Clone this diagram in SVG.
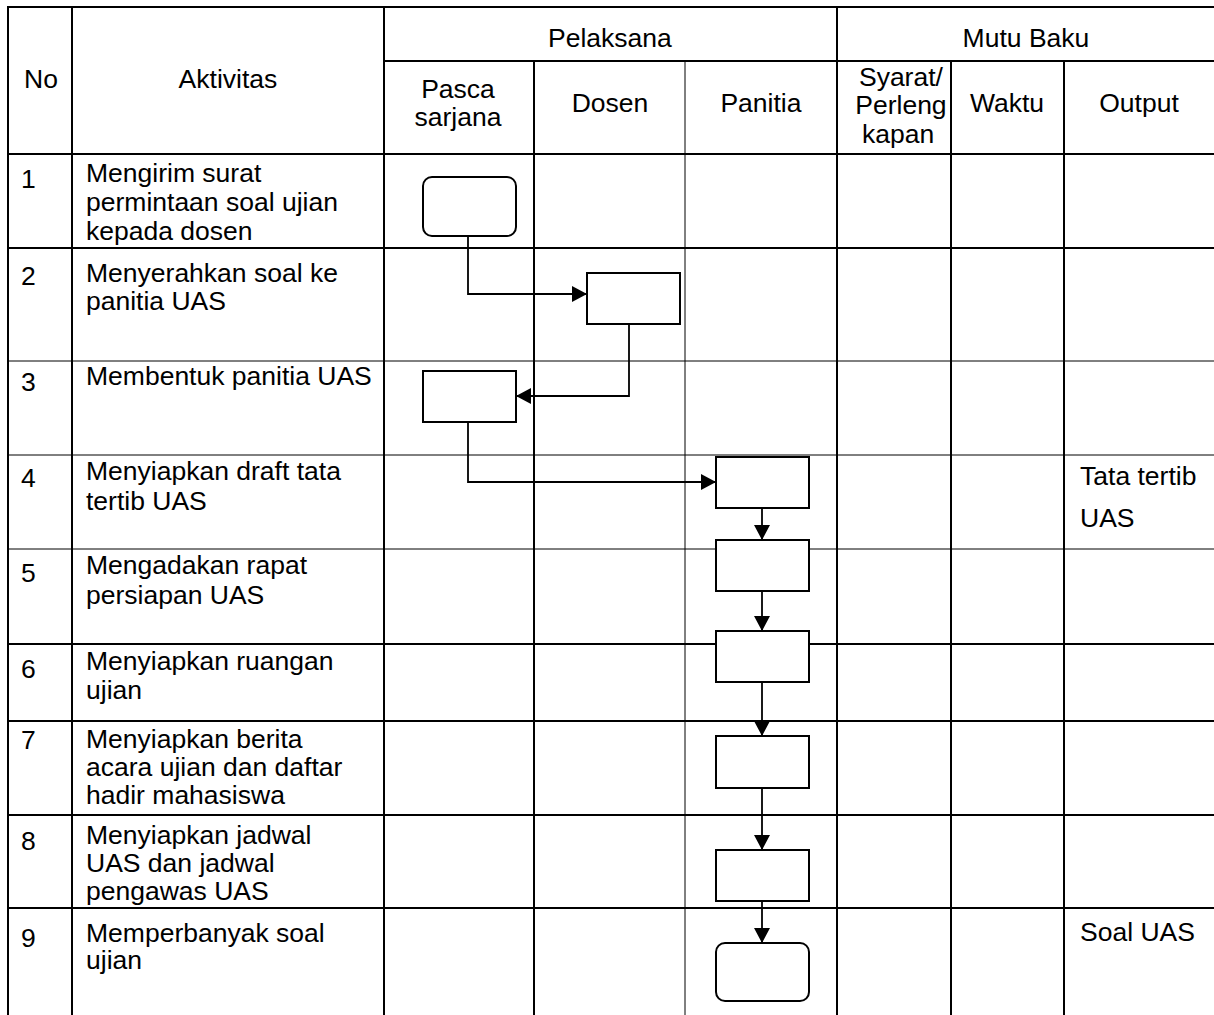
<svg xmlns="http://www.w3.org/2000/svg" width="1214" height="1015" viewBox="0 0 1214 1015">
<style>
.thick{stroke:#000;stroke-width:2;fill:none}
.thin{stroke:#000;stroke-width:1;fill:none}
.t{font-family:"Liberation Sans",Arial,sans-serif;font-size:25.5px;fill:#000}
.c{text-anchor:middle}
.node{fill:#fff;stroke:#000;stroke-width:2}
.conn{fill:none;stroke:#000;stroke-width:1.8}
</style>
<defs>
<marker id="arr" markerWidth="15" markerHeight="16" refX="15" refY="8" orient="auto" markerUnits="userSpaceOnUse">
<path d="M0,0 L15,8 L0,16 z" fill="#000"/>
</marker>
</defs>
<rect width="1214" height="1015" fill="#fff"/>
<g id="grid">
<line class="thick" x1="8" y1="7" x2="1214" y2="7"/>
<line class="thick" x1="384" y1="61" x2="1214" y2="61"/>
<line class="thick" x1="8" y1="154" x2="1214" y2="154"/>
<line class="thick" x1="8" y1="248" x2="1214" y2="248"/>
<line class="thin" x1="8" y1="361" x2="1214" y2="361"/>
<line class="thin" x1="8" y1="455" x2="1214" y2="455"/>
<line class="thin" x1="8" y1="549" x2="1214" y2="549"/>
<line class="thick" x1="8" y1="644" x2="1214" y2="644"/>
<line class="thick" x1="8" y1="721" x2="1214" y2="721"/>
<line class="thick" x1="8" y1="815" x2="1214" y2="815"/>
<line class="thick" x1="8" y1="908" x2="1214" y2="908"/>
<line class="thick" x1="8" y1="6" x2="8" y2="1015"/>
<line class="thick" x1="72" y1="6" x2="72" y2="1015"/>
<line class="thick" x1="384" y1="6" x2="384" y2="1015"/>
<line class="thick" x1="534" y1="61" x2="534" y2="1015"/>
<line class="thin" x1="685" y1="61" x2="685" y2="1015"/>
<line class="thick" x1="837" y1="6" x2="837" y2="1015"/>
<line class="thick" x1="951" y1="61" x2="951" y2="1015"/>
<line class="thick" x1="1064" y1="61" x2="1064" y2="1015"/>
</g>
<g id="labels" class="t" transform="matrix(1.04,0,0,1,0,0)">
<text class="c" x="39.4" y="88">No</text>
<text class="c" x="219.2" y="88">Aktivitas</text>
<text class="c" x="586.5" y="47">Pelaksana</text>
<text class="c" x="986.5" y="47">Mutu Baku</text>
<text class="c" x="440.4" y="98">Pasca</text>
<text class="c" x="440.4" y="126">sarjana</text>
<text class="c" x="586.5" y="112">Dosen</text>
<text class="c" x="731.7" y="112">Panitia</text>
<text class="c" x="866.3" y="86">Syarat/</text>
<text class="c" x="866.3" y="114">Perleng</text>
<text class="c" x="863.5" y="143">kapan</text>
<text class="c" x="968.3" y="112">Waktu</text>
<text class="c" x="1095.2" y="112">Output</text>
<text x="20.2" y="188">1</text>
<text x="20.2" y="285">2</text>
<text x="20.2" y="391">3</text>
<text x="20.2" y="487">4</text>
<text x="20.2" y="582">5</text>
<text x="20.2" y="678">6</text>
<text x="20.2" y="749">7</text>
<text x="20.2" y="850">8</text>
<text x="20.2" y="947">9</text>
<text x="82.7" y="182">Mengirim surat</text>
<text x="82.7" y="211">permintaan soal ujian</text>
<text x="82.7" y="240">kepada dosen</text>
<text x="82.7" y="282">Menyerahkan soal ke</text>
<text x="82.7" y="310">panitia UAS</text>
<text x="82.7" y="385">Membentuk panitia UAS</text>
<text x="82.7" y="480">Menyiapkan draft tata</text>
<text x="82.7" y="510">tertib UAS</text>
<text x="82.7" y="574">Mengadakan rapat</text>
<text x="82.7" y="604">persiapan UAS</text>
<text x="82.7" y="670">Menyiapkan ruangan</text>
<text x="82.7" y="699">ujian</text>
<text x="82.7" y="748">Menyiapkan berita</text>
<text x="82.7" y="776">acara ujian dan daftar</text>
<text x="82.7" y="804">hadir mahasiswa</text>
<text x="82.7" y="844">Menyiapkan jadwal</text>
<text x="82.7" y="872">UAS dan jadwal</text>
<text x="82.7" y="900">pengawas UAS</text>
<text x="82.7" y="942">Memperbanyak soal</text>
<text x="82.7" y="969">ujian</text>
<text x="1038.5" y="485">Tata tertib</text>
<text x="1038.5" y="527">UAS</text>
<text x="1038.5" y="941">Soal UAS</text>
</g>
<g id="connectors">
<path class="conn" d="M468,236 V294 H587" marker-end="url(#arr)"/>
<path class="conn" d="M629,324 V396 H516" marker-end="url(#arr)"/>
<path class="conn" d="M468,422 V482 H716" marker-end="url(#arr)"/>
<path class="conn" d="M762,508 V540" marker-end="url(#arr)"/>
<path class="conn" d="M762,591 V631" marker-end="url(#arr)"/>
<path class="conn" d="M762,682 V736" marker-end="url(#arr)"/>
<path class="conn" d="M762,788 V850" marker-end="url(#arr)"/>
<path class="conn" d="M762,901 V943" marker-end="url(#arr)"/>
</g>
<g id="n1"><rect class="node" x="423" y="177" width="93" height="59" rx="9"/></g>
<g id="n2"><rect class="node" x="587" y="273" width="93" height="51"/></g>
<g id="n3"><rect class="node" x="423" y="371" width="93" height="51"/></g>
<g id="n4"><rect class="node" x="716" y="457" width="93" height="51"/></g>
<g id="n5"><rect class="node" x="716" y="540" width="93" height="51"/></g>
<g id="n6"><rect class="node" x="716" y="631" width="93" height="51"/></g>
<g id="n7"><rect class="node" x="716" y="736" width="93" height="52"/></g>
<g id="n8"><rect class="node" x="716" y="850" width="93" height="51"/></g>
<g id="n9"><rect class="node" x="716" y="943" width="93" height="58" rx="9"/></g>
</svg>
